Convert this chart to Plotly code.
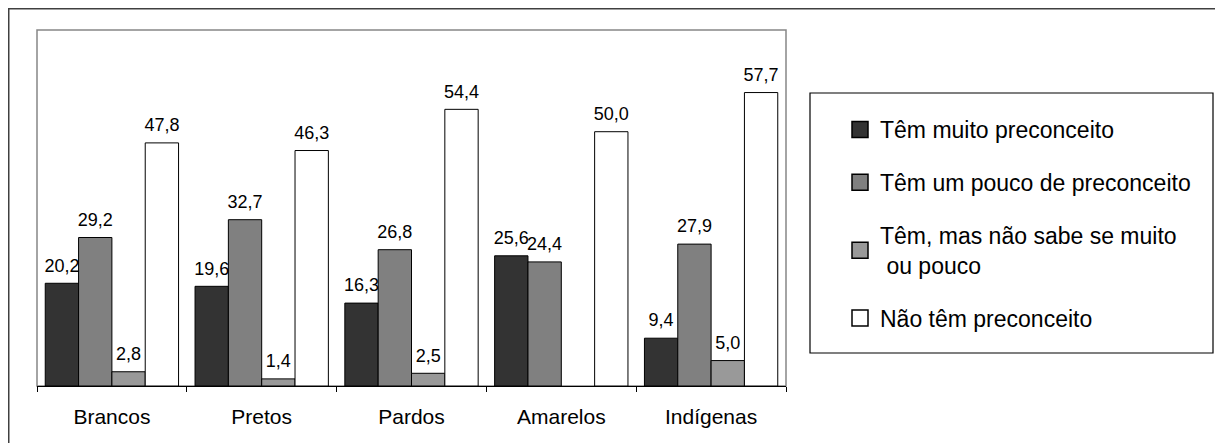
import plotly.graph_objects as go

categories = ["Brancos", "Pretos", "Pardos", "Amarelos", "Indígenas"]
series_names = [
    "Têm muito preconceito",
    "Têm um pouco de preconceito",
    "Têm, mas não sabe se muito<br> ou pouco",
    "Não têm preconceito",
]
muito = [20.2, 19.6, 16.3, 25.6, 9.4]
pouco = [29.2, 32.7, 26.8, 24.4, 27.9]
nao_sabe = [2.8, 1.4, 2.5, None, 5.0]
nao_tem = [47.8, 46.3, 54.4, 50.0, 57.7]
colors = ["#333333", "#808080", "#999999", "#ffffff"]

FONT = "Liberation Sans, Arial, sans-serif"
GAP = 0.11

def fmt(v):
    return "" if v is None else f"{v:.1f}".replace(".", ",")

fig = go.Figure()
for i, (name, vals, col) in enumerate(zip(series_names, [muito, pouco, nao_sabe, nao_tem], colors)):
    fig.add_trace(go.Bar(
        x=categories, y=vals, name=name, offsetgroup=str(i),
        marker=dict(color=col, line=dict(color="#000000", width=1)),
        showlegend=False, hoverinfo="x+y",
    ))
for i, (name, vals) in enumerate(zip(series_names, [muito, pouco, nao_sabe, nao_tem])):
    fig.add_trace(go.Scatter(
        x=categories, y=vals, mode="markers+text", offsetgroup=str(i),
        marker=dict(size=10, color="rgba(0,0,0,0)", line=dict(width=0)),
        text=[fmt(v) for v in vals], textposition="top center",
        textfont=dict(family=FONT, size=18, color="#000000"),
        cliponaxis=False, showlegend=False, hoverinfo="skip",
    ))
for name, col in zip(series_names, colors):
    fig.add_trace(go.Scatter(
        x=[None], y=[None], mode="markers", name=name, legendgroup=name,
        xaxis="x2", yaxis="y2",
        marker=dict(symbol="square", size=16, color=col,
                    line=dict(color="#000000", width=1.5)),
    ))

W, H = 1215, 435
L, T, R, B = 29, 22, 778, 378
pw, ph = R - L, B - T

def px(x):
    return (x - L) / pw

def py(y):
    return (B - y) / ph

fig.update_layout(
    width=W, height=H,
    margin=dict(l=L, r=W - R, t=T, b=H - B, pad=0),
    paper_bgcolor="white", plot_bgcolor="white",
    barmode="group", bargap=GAP, bargroupgap=0,
    scattermode="group", scattergap=GAP,
    font=dict(family=FONT, color="#000000"),
    legend=dict(
        x=px(832), y=py(100), xanchor="left", yanchor="top",
        font=dict(family=FONT, size=23, color="#000000"),
        tracegroupgap=20, bgcolor="rgba(0,0,0,0)", borderwidth=0,
    ),
    xaxis=dict(
        showline=True, linecolor="#000000", linewidth=1,
        ticks="outside", tickson="boundaries", ticklen=5, tickcolor="#000000",
        tickfont=dict(family=FONT, size=21, color="#000000"),
        ticklabelstandoff=12,
        showgrid=False, zeroline=False,
    ),
    yaxis=dict(
        range=[0, 70], showticklabels=False, showgrid=False, zeroline=False,
        ticks="", showline=False,
    ),
    xaxis2=dict(overlaying="x", visible=False),
    yaxis2=dict(overlaying="y", visible=False),
    shapes=[
        dict(type="rect", xref="paper", yref="paper",
             x0=0, x1=1, y0=0, y1=1, line=dict(color="#868686", width=1.5),
             layer="below"),
        dict(type="rect", xref="paper", yref="paper",
             x0=px(0.75), x1=px(1240), y0=py(460), y1=py(0.75),
             line=dict(color="#404040", width=1.5)),
        dict(type="rect", xref="paper", yref="paper",
             x0=px(802), x1=px(1205), y0=py(345), y1=py(85),
             line=dict(color="#000000", width=1.2)),
    ],
)

fig.write_html("out.html")
